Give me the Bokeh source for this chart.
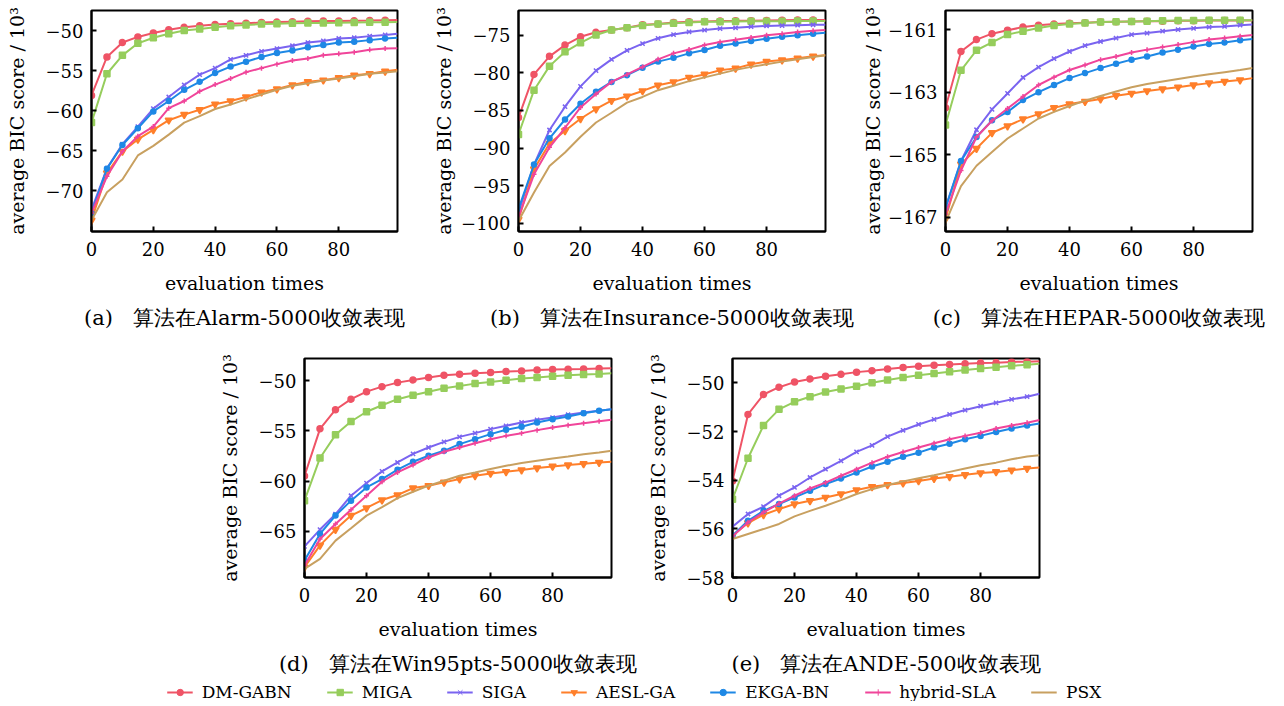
from bokeh.plotting import figure
from bokeh.models import (FixedTicker, Title, Legend, LegendItem, Range1d, Spacer,
                          CustomJSTickFormatter)
from bokeh.layouts import row, column
from bokeh.embed import file_html
from bokeh.resources import INLINE

# ---------------- data ----------------
eval_x = [0, 5, 10, 15, 20, 25, 30, 35, 40, 45, 50, 55, 60, 65, 70, 75, 80, 85, 90, 95, 99]

series_names = ["DM-GABN", "MIGA", "SIGA", "AESL-GA", "EKGA-BN", "hybrid-SLA", "PSX"]
series_colors = ["#ef5466", "#96cd5c", "#7a64f0", "#ff7f2a", "#1e88e5", "#f0459a", "#c8a060"]
series_markers = ["circle", "square", "x", "inverted_triangle", "circle", "cross", None]
series_msize = [6, 6, 6, 7, 5, 5, 0]

# (a) Alarm-5000
alarm_dm = [-58.1, -53.3, -51.5, -50.8, -50.3, -49.9, -49.6, -49.4, -49.25, -49.15, -49.1, -49.0, -48.95, -48.9, -48.85, -48.82, -48.8, -48.77, -48.75, -48.72, -48.7]
alarm_miga = [-61.5, -55.4, -53.1, -51.6, -50.9, -50.4, -50.0, -49.8, -49.6, -49.4, -49.3, -49.2, -49.15, -49.1, -49.07, -49.05, -49.02, -49.0, -48.98, -48.96, -48.95]
alarm_siga = [-72.4, -67.2, -64.2, -62.0, -59.75, -58.3, -56.8, -55.5, -54.7, -53.6, -53.1, -52.6, -52.25, -51.9, -51.5, -51.3, -51.0, -50.9, -50.7, -50.55, -50.4]
alarm_aesl = [-73.7, -67.8, -65.1, -63.6, -62.4, -61.2, -60.5, -59.9, -59.2, -58.8, -58.3, -57.7, -57.3, -56.8, -56.4, -56.2, -55.9, -55.6, -55.4, -55.1, -54.9]
alarm_ekga = [-72.8, -67.25, -64.3, -62.2, -60.1, -58.8, -57.4, -56.4, -55.3, -54.5, -53.9, -53.3, -52.8, -52.5, -52.1, -51.8, -51.5, -51.4, -51.2, -51.0, -50.9]
alarm_hyb = [-72.8, -68.2, -65.1, -63.2, -62.0, -59.7, -58.8, -57.6, -56.75, -56.0, -55.2, -54.7, -54.2, -53.75, -53.5, -53.1, -52.9, -52.7, -52.4, -52.25, -52.2]
alarm_psx = [-73.7, -70.2, -68.6, -65.6, -64.4, -63.0, -61.5, -60.7, -59.8, -59.25, -58.6, -58.0, -57.4, -56.9, -56.6, -56.25, -56.0, -55.7, -55.4, -55.25, -55.1]

# (b) Insurance-5000
ins_dm = [-85.95, -80.2, -77.8, -76.3, -75.2, -74.6, -74.3, -74.0, -73.6, -73.5, -73.3, -73.2, -73.15, -73.1, -73.08, -73.05, -73.03, -73.0, -72.98, -72.96, -72.95]
ins_miga = [-88.2, -82.3, -79.1, -77.2, -76.0, -74.95, -74.3, -74.0, -73.7, -73.5, -73.4, -73.3, -73.2, -73.18, -73.15, -73.14, -73.13, -73.12, -73.11, -73.1, -73.1]
ins_siga = [-98.6, -92.2, -87.6, -84.5, -81.8, -79.7, -78.2, -77.0, -76.1, -75.4, -74.9, -74.55, -74.3, -74.1, -74.0, -73.85, -73.75, -73.7, -73.65, -73.6, -73.6]
ins_aesl = [-99.5, -92.8, -89.4, -87.7, -86.1, -84.8, -83.7, -83.1, -82.4, -81.65, -81.2, -80.6, -80.2, -79.65, -79.4, -78.85, -78.5, -78.3, -78.05, -77.8, -77.65]
ins_ekga = [-98.1, -92.2, -88.7, -86.2, -84.1, -82.5, -81.2, -80.3, -79.3, -78.5, -78.0, -77.4, -76.95, -76.4, -76.1, -75.75, -75.45, -75.2, -75.0, -74.8, -74.65]
ins_hyb = [-99.2, -93.5, -89.9, -87.3, -84.6, -82.8, -81.2, -80.2, -79.2, -78.2, -77.4, -76.9, -76.3, -75.9, -75.6, -75.3, -75.0, -74.8, -74.55, -74.4, -74.3]
ins_psx = [-99.7, -95.9, -92.4, -90.6, -88.5, -86.6, -85.3, -83.95, -83.2, -82.3, -81.7, -81.1, -80.6, -80.1, -79.6, -79.2, -78.85, -78.5, -78.2, -77.9, -77.65]

# (c) HEPAR-5000
hep_dm = [-163.5, -161.7, -161.32, -161.13, -161.02, -160.92, -160.86, -160.82, -160.8, -160.78, -160.76, -160.75, -160.74, -160.73, -160.73, -160.72, -160.72, -160.71, -160.71, -160.71, -160.71]
hep_miga = [-164.05, -162.3, -161.66, -161.41, -161.16, -161.05, -160.95, -160.87, -160.82, -160.79, -160.76, -160.75, -160.74, -160.73, -160.72, -160.71, -160.71, -160.7, -160.7, -160.7, -160.7]
hep_siga = [-166.7, -165.2, -164.2, -163.55, -163.04, -162.53, -162.2, -161.93, -161.7, -161.51, -161.38, -161.27, -161.16, -161.11, -161.05, -161.0, -160.96, -160.92, -160.9, -160.86, -160.84]
hep_aesl = [-167.05, -165.3, -164.8, -164.3, -164.08, -163.86, -163.7, -163.5, -163.38, -163.3, -163.22, -163.11, -163.04, -162.96, -162.9, -162.84, -162.77, -162.71, -162.66, -162.61, -162.55]
hep_ekga = [-166.7, -165.2, -164.43, -163.9, -163.63, -163.25, -163.0, -162.77, -162.55, -162.39, -162.23, -162.09, -161.96, -161.86, -161.73, -161.64, -161.54, -161.46, -161.41, -161.34, -161.3]
hep_hyb = [-166.9, -165.5, -164.43, -163.91, -163.52, -163.14, -162.77, -162.52, -162.29, -162.13, -161.96, -161.86, -161.73, -161.64, -161.56, -161.48, -161.4, -161.32, -161.27, -161.21, -161.17]
hep_psx = [-167.16, -166.0, -165.35, -164.91, -164.48, -164.16, -163.84, -163.63, -163.44, -163.27, -163.12, -162.98, -162.84, -162.74, -162.66, -162.58, -162.5, -162.43, -162.36, -162.29, -162.23]

# (d) Win95pts-5000
win_dm = [-59.5, -54.8, -52.9, -51.85, -51.1, -50.6, -50.2, -49.93, -49.7, -49.47, -49.37, -49.27, -49.2, -49.1, -49.04, -48.94, -48.9, -48.87, -48.84, -48.8, -48.78]
win_miga = [-61.95, -57.7, -55.4, -54.07, -53.1, -52.45, -51.85, -51.46, -51.1, -50.76, -50.53, -50.3, -50.13, -49.97, -49.8, -49.7, -49.57, -49.47, -49.4, -49.34, -49.27]
win_siga = [-66.5, -64.83, -63.3, -61.46, -60.2, -59.04, -58.15, -57.3, -56.66, -56.1, -55.6, -55.23, -54.83, -54.5, -54.17, -53.9, -53.68, -53.4, -53.18, -53.0, -52.85]
win_aesl = [-68.58, -66.4, -64.83, -63.44, -62.68, -61.89, -61.39, -60.7, -60.46, -60.13, -59.8, -59.47, -59.24, -59.07, -58.9, -58.71, -58.54, -58.41, -58.28, -58.15, -58.08]
win_ekga = [-67.9, -65.26, -63.44, -61.95, -60.63, -59.8, -58.87, -58.08, -57.48, -56.99, -56.32, -55.83, -55.33, -54.9, -54.6, -54.17, -53.84, -53.58, -53.25, -53.0, -52.85]
win_hyb = [-68.4, -65.76, -64.27, -62.85, -61.46, -60.07, -59.14, -58.4, -57.65, -57.09, -56.66, -56.23, -55.83, -55.5, -55.23, -54.93, -54.67, -54.44, -54.24, -54.04, -53.9]
win_psx = [-68.74, -67.75, -65.93, -64.7, -63.44, -62.6, -61.7, -61.06, -60.46, -59.97, -59.47, -59.14, -58.8, -58.48, -58.21, -57.98, -57.75, -57.55, -57.32, -57.15, -56.99]

# (e) ANDE-500
ande_dm = [-54.03, -51.3, -50.48, -50.18, -49.97, -49.84, -49.73, -49.65, -49.56, -49.5, -49.43, -49.37, -49.32, -49.28, -49.25, -49.22, -49.19, -49.17, -49.14, -49.13, -49.11]
ande_miga = [-54.78, -53.1, -51.75, -51.09, -50.78, -50.57, -50.38, -50.25, -50.14, -50.0, -49.88, -49.78, -49.69, -49.62, -49.54, -49.47, -49.41, -49.36, -49.3, -49.26, -49.22]
ande_siga = [-55.91, -55.39, -55.09, -54.64, -54.3, -53.89, -53.55, -53.21, -52.84, -52.57, -52.21, -51.95, -51.71, -51.5, -51.3, -51.12, -50.96, -50.82, -50.68, -50.57, -50.45]
ande_aesl = [-56.28, -55.76, -55.42, -55.19, -54.98, -54.85, -54.71, -54.57, -54.4, -54.27, -54.19, -54.12, -54.03, -53.93, -53.86, -53.78, -53.71, -53.66, -53.59, -53.52, -53.48]
ande_ekga = [-56.28, -55.67, -55.26, -54.98, -54.71, -54.44, -54.16, -53.93, -53.69, -53.44, -53.24, -53.04, -52.87, -52.66, -52.5, -52.32, -52.18, -52.02, -51.88, -51.75, -51.67]
ande_hyb = [-56.31, -55.73, -55.32, -54.96, -54.64, -54.34, -54.1, -53.82, -53.55, -53.28, -53.04, -52.84, -52.66, -52.48, -52.32, -52.18, -52.05, -51.88, -51.75, -51.64, -51.53]
ande_psx = [-56.42, -56.21, -56.01, -55.8, -55.49, -55.26, -55.05, -54.82, -54.57, -54.37, -54.2, -54.05, -53.92, -53.8, -53.66, -53.52, -53.39, -53.28, -53.14, -53.03, -52.98]

x_ticks = [0, 20, 40, 60, 80]
alarm_yticks = [-50, -55, -60, -65, -70]
ins_yticks = [-75, -80, -85, -90, -95, -100]
hep_yticks = [-161, -163, -165, -167]
win_yticks = [-50, -55, -60, -65]
ande_yticks = [-50, -52, -54, -56, -58]

SP = "\u00a0\u00a0\u00a0"
captions = ["(a)" + SP + "算法在Alarm-5000收敛表现", "(b)" + SP + "算法在Insurance-5000收敛表现",
            "(c)" + SP + "算法在HEPAR-5000收敛表现", "(d)" + SP + "算法在Win95pts-5000收敛表现",
            "(e)" + SP + "算法在ANDE-500收敛表现"]

FONT = "DejaVu Serif"
minus_fmt = "return (tick < 0 ? '\u2212' : '') + Math.abs(tick).toString();"


def panel(series, yr, yticks, caption, left, right, top, bottom, fw, fh, ylab_standoff):
    p = figure(width=left + fw + right, height=top + fh + bottom,
               x_range=Range1d(0, 99), y_range=Range1d(*yr),
               toolbar_location=None, output_backend="svg",
               min_border_left=left, min_border_right=right,
               min_border_top=top, min_border_bottom=bottom)
    p.grid.visible = False
    p.outline_line_color = "black"
    p.outline_line_width = 2
    p.background_fill_color = "white"
    p.border_fill_color = "white"
    for ax in (p.xaxis[0], p.yaxis[0]):
        ax.axis_line_width = 2
        ax.axis_line_color = "black"
        ax.major_tick_in = 5
        ax.major_tick_out = 0
        ax.major_tick_line_width = 2
        ax.minor_tick_line_color = None
        ax.major_label_text_font = FONT
        ax.major_label_text_font_size = "18px"
        ax.major_label_text_color = "black"
        ax.axis_label_text_font = FONT
        ax.axis_label_text_font_size = "19px"
        ax.axis_label_text_font_style = "normal"
        ax.axis_label_text_color = "black"
    p.xaxis.major_label_standoff = 10
    p.yaxis.major_label_standoff = 8
    p.xaxis.ticker = FixedTicker(ticks=x_ticks)
    p.yaxis.ticker = FixedTicker(ticks=yticks)
    p.yaxis.formatter = CustomJSTickFormatter(code=minus_fmt)
    p.xaxis.axis_label = "evaluation times"
    p.xaxis.axis_label_standoff = 13
    p.yaxis.axis_label = "average BIC score / 10\u00b3"
    p.yaxis.axis_label_standoff = ylab_standoff

    mx = eval_x[:20]
    for ys, c, m, s in zip(series, series_colors, series_markers, series_msize):
        p.line(eval_x, ys, line_color=c, line_width=2)
        if m is not None:
            p.scatter(mx, ys[:20], marker=m, size=s, fill_color=c, line_color=c,
                      line_width=1.5)

    p.add_layout(Title(text=caption, align="center", text_font=FONT,
                       text_font_size="21px", text_font_style="normal",
                       text_color="black", standoff=14), "below")
    return p


# top row (a, b, c)
pa = panel([alarm_dm, alarm_miga, alarm_siga, alarm_aesl, alarm_ekga, alarm_hyb, alarm_psx],
           (-75.1, -47.5), alarm_yticks, captions[0], 91, 29, 10, 108, 306, 221, 15)
pb = panel([ins_dm, ins_miga, ins_siga, ins_aesl, ins_ekga, ins_hyb, ins_psx],
           (-101.1, -71.7), ins_yticks, captions[1], 92, 31, 10, 108, 307, 221, 3)
pc = panel([hep_dm, hep_miga, hep_siga, hep_aesl, hep_ekga, hep_hyb, hep_psx],
           (-167.45, -160.39), hep_yticks, captions[2], 89, 16, 10, 108, 307, 221, 1)
# bottom row (d, e)
pd = panel([win_dm, win_miga, win_siga, win_aesl, win_ekga, win_hyb, win_psx],
           (-69.6, -47.8), win_yticks, captions[3], 92, 29, 19, 106, 307, 219, 15)
pe = panel([ande_dm, ande_miga, ande_siga, ande_aesl, ande_ekga, ande_hyb, ande_psx],
           (-58.0, -49.0), ande_yticks, captions[4], 92, 30, 19, 106, 307, 219, 15)

# legend strip
pl = figure(width=1268, height=18, x_range=Range1d(0, 1), y_range=Range1d(0, 1),
            toolbar_location=None, output_backend="svg",
            min_border_left=0, min_border_right=0, min_border_top=0, min_border_bottom=0)
pl.axis.visible = False
pl.grid.visible = False
pl.outline_line_color = None
items = []
for n, c, m, s in zip(series_names, series_colors, series_markers, series_msize):
    rs = [pl.line([5, 6], [5, 5], line_color=c, line_width=2)]
    if m is not None:
        rs.append(pl.scatter([5], [5], marker=m, size=max(s - 3, 3), fill_color=c,
                             line_color=c, line_width=1))
    items.append(LegendItem(label=n, renderers=rs))
leg = Legend(items=items, orientation="horizontal", location="center",
             border_line_color=None, background_fill_alpha=0,
             glyph_width=26, glyph_height=16, label_height=16, label_standoff=9,
             spacing=35, padding=0, margin=0,
             label_text_font=FONT, label_text_font_size="17px", label_text_color="black")
pl.add_layout(leg, "center")

layout = column(row(pa, pb, pc),
                row(Spacer(width=212, height=344), pd, pe),
                pl)

open("out.html", "w").write(file_html(layout, INLINE))
